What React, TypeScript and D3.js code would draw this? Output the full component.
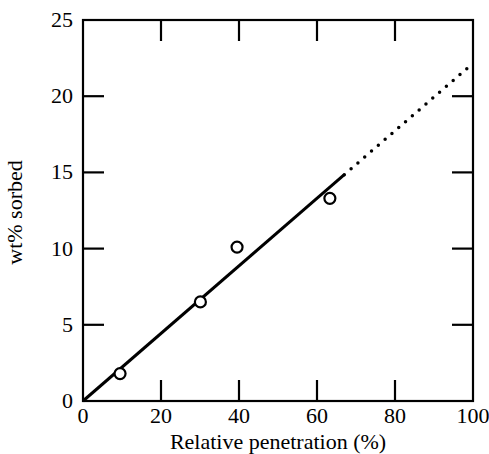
import React from "react";
import * as d3 from "d3";

const xTicks = [0, 20, 40, 60, 80, 100];
const yTicks = [0, 5, 10, 15, 20, 25];
const penetration = [9.5, 30.1, 39.5, 63.3];
const sorbed = [1.8, 6.5, 10.1, 13.3];
const fitSolid = [[0, 0], [67, 14.85]];
const fitDotted = [[67, 14.85], [100, 22.16]];

const W = 489, H = 454;
const m = { left: 83, right: 16, top: 20, bottom: 53 };

export default function App() {
  const x = d3.scaleLinear().domain([0, 100]).range([m.left, W - m.right]);
  const y = d3.scaleLinear().domain([0, 25]).range([H - m.bottom, m.top]);
  const line = d3.line<number[]>().x(d => x(d[0])).y(d => y(d[1]));
  const ts = { fontFamily: '"Liberation Serif"', fontSize: "22px" };
  const tl = 21;
  return (
    <>
      <style>{`html,body{margin:0;padding:0;overflow:hidden}`}</style>
      <svg width={W} height={H} style={{ display: "block", background: "#fff" }}>
        <rect x={x(0)} y={y(25)} width={x(100) - x(0)} height={y(0) - y(25)} fill="none" stroke="#000" strokeWidth={2.2} />
        {xTicks.slice(1, -1).map(t => (
          <g key={"xt" + t}>
            <line x1={x(t)} x2={x(t)} y1={y(0)} y2={y(0) - tl} stroke="#000" strokeWidth={2.2} />
            <line x1={x(t)} x2={x(t)} y1={y(25)} y2={y(25) + tl} stroke="#000" strokeWidth={2.2} />
          </g>
        ))}
        {yTicks.slice(1, -1).map(t => (
          <g key={"yt" + t}>
            <line x1={x(0)} x2={x(0) + tl} y1={y(t)} y2={y(t)} stroke="#000" strokeWidth={2.2} />
            <line x1={x(100)} x2={x(100) - tl} y1={y(t)} y2={y(t)} stroke="#000" strokeWidth={2.2} />
          </g>
        ))}
        {xTicks.map(t => (
          <text key={"xl" + t} x={x(t)} y={y(0) + 22} textAnchor="middle" style={ts}>{t}</text>
        ))}
        {yTicks.map(t => (
          <text key={"yl" + t} x={x(0) - 10} y={y(t) + 7} textAnchor="end" style={ts}>{t}</text>
        ))}
        <text x={(x(0) + x(100)) / 2} y={449} textAnchor="middle" style={ts}>Relative penetration (%)</text>
        <text transform={`translate(22,${(y(0) + y(25)) / 2 + 2}) rotate(-90)`} textAnchor="middle" style={ts}>wt% sorbed</text>
        <path d={line(fitSolid) || ""} fill="none" stroke="#000" strokeWidth={3} />
        <path d={line(fitDotted) || ""} fill="none" stroke="#000" strokeWidth={3.5} strokeDasharray="0 9" strokeLinecap="round" />
        {penetration.map((p, i) => (
          <circle key={"pt" + i} cx={x(p)} cy={y(sorbed[i])} r={5.5} fill="#fff" stroke="#000" strokeWidth={2.2} />
        ))}
      </svg>
    </>
  );
}
